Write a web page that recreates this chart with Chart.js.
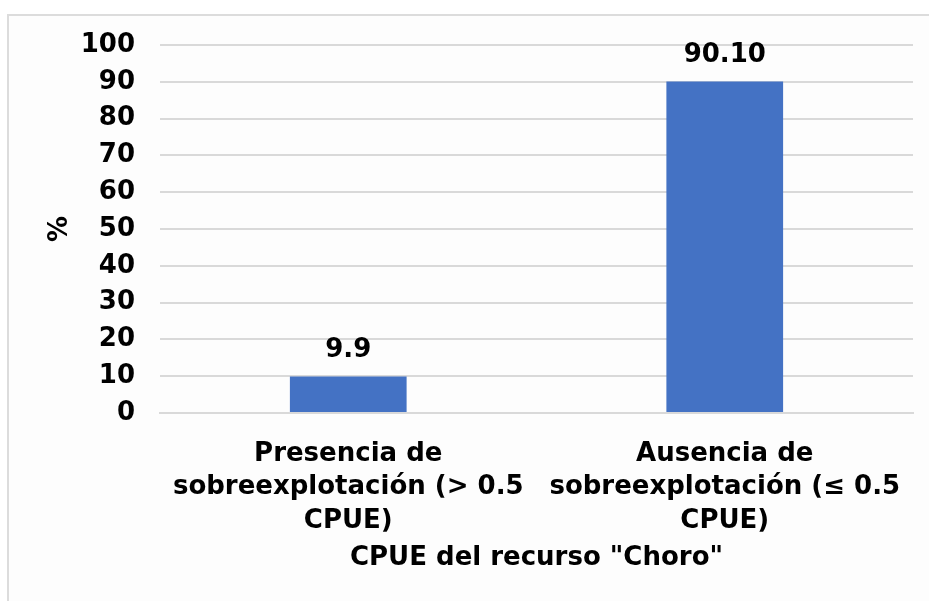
<!DOCTYPE html>
<html>
<head>
<meta charset="utf-8">
<script src="https://cdn.jsdelivr.net/npm/chart.js@4"></script>
<style>
    body { margin: 0; background: #fff; }
    .amb-grafico { position: relative; width: 929px; height: 601px; overflow: hidden; }
    .marco { position: absolute; left: 7px; top: 14px; right: -20px; bottom: -20px; border-left: 2px solid #dcdcdc; border-top: 2px solid #dcdcdc; background: #fdfdfd; }
    #grafico { position: absolute; left: 0; top: 0; }
</style>
</head>
<body>
<div class="amb-grafico">
    <div class="marco"></div>
    <canvas id="grafico" width="929" height="601"></canvas>
</div>
<script>
// categorias (eje x), cada una partida en lineas
const categorias = [
    ['Presencia de', 'sobreexplotación (> 0.5', 'CPUE)'],
    ['Ausencia de', 'sobreexplotación (≤ 0.5', 'CPUE)']
];
const porcentajes = [9.9, 90.1];
const etiquetasValor = ['9.9', '90.10'];
const ticksY = [0, 10, 20, 30, 40, 50, 60, 70, 80, 90, 100];

const fuente = 'DejaVu Sans, Verdana, sans-serif';
Chart.defaults.font.family = fuente;
Chart.defaults.color = '#000';

//---------------------------- etiquetas encima de las barras ---------------
const etiquetasBarras = {
    id: 'etiquetasBarras',
    afterDatasetsDraw: function (chart) {
        const ctx = chart.ctx;
        const meta = chart.getDatasetMeta(0);
        ctx.save();
        ctx.font = 'bold 26px ' + fuente;
        ctx.fillStyle = '#000';
        ctx.textAlign = 'center';
        ctx.textBaseline = 'middle';
        meta.data.forEach(function (barra, i) {
            ctx.fillText(etiquetasValor[i], barra.x, barra.y - 26);
        });
        ctx.restore();
    }
};

const data = {
    labels: categorias,
    datasets: [{
        data: porcentajes,
        backgroundColor: '#4472C4',
        borderWidth: 0,
        barPercentage: 0.31,
        categoryPercentage: 1
    }]
};

const config = {
    type: 'bar',
    data: data,
    plugins: [etiquetasBarras],
    options: {
        responsive: false,
        animation: false,
        layout: {
            padding: { left: 45, right: 16, top: 45, bottom: 26 }
        },
        plugins: {
            legend: { display: false },
            tooltip: { enabled: false }
        },
        scales: {
            y: {
                min: 0,
                max: 100,
                afterFit: function (escala) { escala.width = 115; },
                afterBuildTicks: function (escala) {
                    escala.ticks = ticksY.map(function (v) { return { value: v }; });
                },
                grid: {
                    color: '#d9d9d9',
                    lineWidth: 2,
                    drawTicks: false
                },
                border: { display: false },
                ticks: {
                    padding: 25,
                    font: { size: 26, weight: 'bold' }
                },
                title: {
                    display: true,
                    text: '%',
                    font: { size: 26, weight: 'bold' },
                    padding: { top: 0, bottom: 0 }
                }
            },
            x: {
                afterFit: function (escala) { escala.height = 162; },
                grid: { display: false },
                border: { display: true, color: '#d9d9d9', width: 2 },
                ticks: {
                    padding: 16,
                    maxRotation: 0,
                    font: { size: 26, weight: 'bold', lineHeight: 1.3 }
                },
                title: {
                    display: true,
                    text: 'CPUE del recurso "Choro"',
                    font: { size: 26, weight: 'bold' },
                    padding: { top: 4, bottom: 1 }
                }
            }
        }
    }
};

const grafico = new Chart(document.getElementById('grafico'), config);
</script>
</body>
</html>
